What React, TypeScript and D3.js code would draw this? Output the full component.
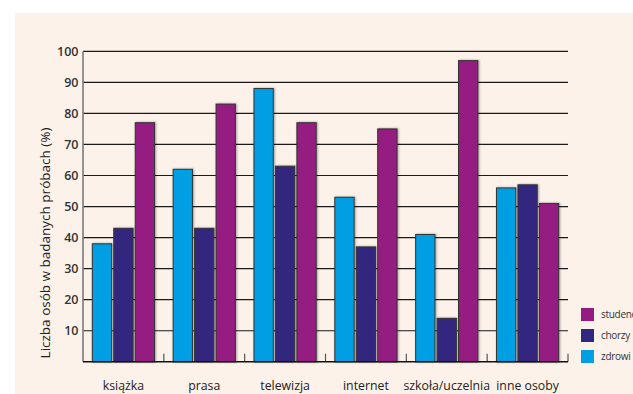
import React from "react";
import * as d3 from "d3";

const categories = ["książka", "prasa", "telewizja", "internet", "szkoła/uczelnia", "inne osoby"];
const seriesNames = ["zdrowi", "chorzy", "studenci"];
const zdrowi = [38, 62, 88, 53, 41, 56];
const chorzy = [43, 43, 63, 37, 14, 57];
const studenci = [77, 83, 77, 75, 97, 51];
const yTicks = [10, 20, 30, 40, 50, 60, 70, 80, 90, 100];
const legendOrder = ["studenci", "chorzy", "zdrowi"];

const colors: Record<string, string> = {
  zdrowi: "#009fe3",
  chorzy: "#32277f",
  studenci: "#951b81",
};

const W = 633;
const H = 394;
const plot = { left: 83, right: 568, top: 51.3, bottom: 361.8 };
const font = "'Open Sans', 'Noto Sans', sans-serif";

export default function App() {
  const values: Record<string, number[]> = { zdrowi, chorzy, studenci };

  const x = d3.scaleBand<string>().domain(categories).range([plot.left, plot.right]).padding(0);
  const inner = d3
    .scaleBand<string>()
    .domain(seriesNames)
    .range([9.3, x.bandwidth() - 9.3])
    .paddingInner(0.1);
  const y = d3.scaleLinear().domain([0, 100]).range([plot.bottom, plot.top]);

  const groupEdges = categories.map((c) => (x(c) as number) + x.bandwidth());

  return (
    <svg width={W} height={H} style={{ position: "absolute", left: 0, top: 0 }}>
      <defs>
        <filter id="barShadow" x="-30%" y="-10%" width="160%" height="120%">
          <feGaussianBlur in="SourceAlpha" stdDeviation="1.2" />
          <feOffset dx="0.8" dy="0" result="blur" />
          <feFlood floodColor="#000" floodOpacity="0.35" />
          <feComposite in2="blur" operator="in" />
          <feMerge>
            <feMergeNode />
            <feMergeNode in="SourceGraphic" />
          </feMerge>
        </filter>
      </defs>
      <rect x={0} y={0} width={W} height={H} fill="#ffffff" />
      <rect x={15} y={13} width={W - 15} height={H - 13} fill="#fcf2ea" />

      {/* horizontal grid */}
      {yTicks.map((t) => (
        <line
          key={t}
          x1={plot.left}
          x2={plot.right}
          y1={y(t)}
          y2={y(t)}
          stroke="#1a1a1a"
          strokeWidth={1.2}
        />
      ))}

      {/* group separator ticks */}
      {groupEdges.map((gx, i) => (
        <line
          key={i}
          x1={gx}
          x2={gx}
          y1={plot.bottom}
          y2={plot.bottom - 8}
          stroke="#555"
          strokeWidth={1.2}
        />
      ))}

      {/* bars */}
      {categories.map((c, i) => (
        <g key={c} transform={`translate(${x(c)},0)`}>
          {seriesNames.map((s) => {
            const v = values[s][i];
            return (
              <rect
                key={s}
                x={inner(s)}
                y={y(v)}
                width={inner.bandwidth()}
                height={plot.bottom - y(v)}
                fill={colors[s]}
                stroke="#333"
                strokeWidth={1}
                filter="url(#barShadow)"
              />
            );
          })}
        </g>
      ))}

      {/* axes */}
      <line x1={plot.left} x2={plot.left} y1={plot.top} y2={plot.bottom} stroke="#7a7a7a" strokeWidth={1.6} />
      <line x1={plot.left} x2={plot.right} y1={plot.bottom} y2={plot.bottom} stroke="#111" strokeWidth={1.4} />

      {/* y tick labels */}
      {yTicks.map((t) => (
        <text
          key={t}
          x={78.5}
          y={y(t)}
          dy="0.36em"
          textAnchor="end"
          fontFamily={font}
          fontSize={12.5}
          fontWeight={600}
          fill="#333"
        >
          {t}
        </text>
      ))}

      {/* category labels */}
      {categories.map((c) => (
        <text
          key={c}
          x={(x(c) as number) + x.bandwidth() / 2}
          y={390}
          textAnchor="middle"
          fontFamily={font}
          fontSize={12.3}
          fill="#222"
        >
          {c}
        </text>
      ))}

      {/* y title */}
      <text
        transform={`translate(50,243) rotate(-90)`}
        textAnchor="middle"
        fontFamily={font}
        fontSize={13.5}
        fill="#222"
      >
        Liczba osób w badanych próbach (%)
      </text>

      {/* legend */}
      {legendOrder.map((s, i) => (
        <g key={s} transform={`translate(581,${308 + i * 21})`}>
          <rect width={13} height={13} fill={colors[s]} />
          <text x={20} y={10} fontFamily={font} fontSize={10} letterSpacing={-0.3} fill="#333">
            {s}
          </text>
        </g>
      ))}
    </svg>
  );
}
